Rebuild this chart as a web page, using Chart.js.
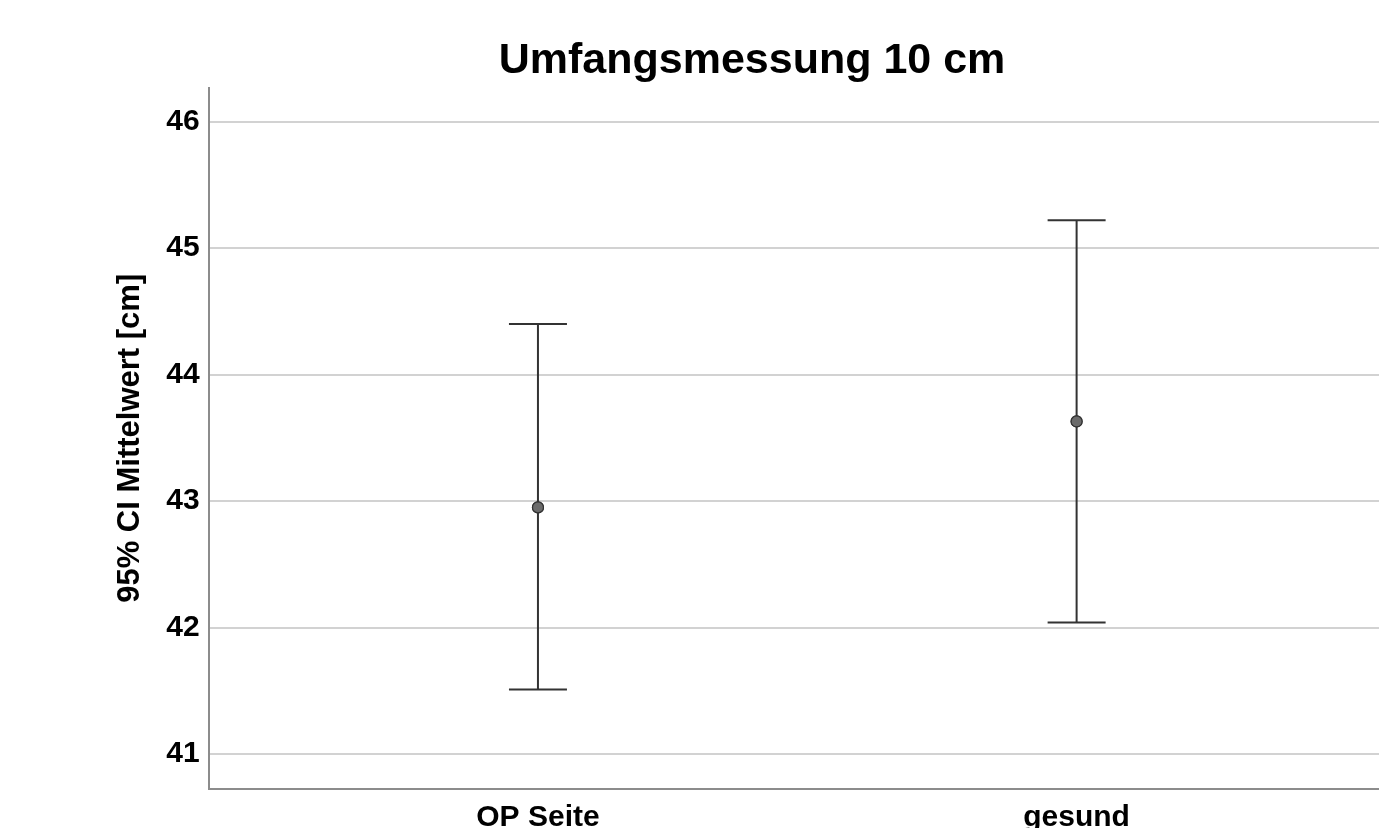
<!DOCTYPE html>
<html>
<head>
<meta charset="utf-8">
<script src="https://cdn.jsdelivr.net/npm/chart.js@4.4.1/dist/chart.umd.min.js"></script>
<style>
html,body{margin:0;padding:0;background:#fff;overflow:hidden;width:1379px;height:828px;}
canvas{display:block;}
</style>
</head>
<body>
<canvas id="c" width="1504" height="847"></canvas>
<script>
// Data
const categories = ["OP Seite", "gesund"];
const categoryPositions = [1, 2];
const means = [42.95, 43.63];
const lowerCI = [41.51, 42.04];
const upperCI = [44.40, 45.22];
const yTickValues = [41, 42, 43, 44, 45, 46];

const FONT = "'Liberation Sans', Arial, sans-serif";

const errorBarPlugin = {
  id: 'errorBars',
  afterDatasetsDraw(chart) {
    const ctx = chart.ctx;
    const xs = chart.scales.x, ys = chart.scales.y;
    ctx.save();
    ctx.strokeStyle = '#333333';
    ctx.lineWidth = 2;
    ctx.lineCap = 'butt';
    for (let i = 0; i < categories.length; i++) {
      const x = xs.getPixelForValue(categoryPositions[i]);
      const yl = ys.getPixelForValue(lowerCI[i]);
      const yu = ys.getPixelForValue(upperCI[i]);
      const half = 29;
      ctx.beginPath();
      ctx.moveTo(x, yl); ctx.lineTo(x, yu);
      ctx.moveTo(x - half, yu); ctx.lineTo(x + half, yu);
      ctx.moveTo(x - half, yl); ctx.lineTo(x + half, yl);
      ctx.stroke();
    }
    ctx.restore();
    const meta = chart.getDatasetMeta(0);
    meta.data.forEach(p => p.draw(ctx, chart.chartArea));
  }
};

new Chart(document.getElementById('c'), {
  type: 'scatter',
  data: {
    datasets: [{
      data: categoryPositions.map((x, i) => ({x: x, y: means[i]})),
      pointRadius: 5.5,
      pointHoverRadius: 5.5,
      pointBackgroundColor: '#6b6b6b',
      pointBorderColor: '#333333',
      pointBorderWidth: 1.2
    }]
  },
  options: {
    responsive: false,
    animation: false,
    devicePixelRatio: 1,
    layout: { padding: { left: 0, right: 0, top: 0, bottom: 0 } },
    plugins: {
      legend: { display: false },
      tooltip: { enabled: false },
      title: {
        display: true,
        text: 'Umfangsmessung 10 cm',
        color: '#000',
        font: { family: FONT, size: 43, weight: 'bold' },
        padding: { top: 35, bottom: 1 }
      }
    },
    scales: {
      x: {
        type: 'linear',
        min: 0.3885,
        max: 2.781,
        afterBuildTicks(scale) { scale.ticks = categoryPositions.map(v => ({value: v})); },
        ticks: {
          color: '#000',
          font: { family: FONT, size: 30, weight: 'bold' },
          padding: 11,
          maxRotation: 0,
          autoSkip: false,
          callback(v) { const i = categoryPositions.indexOf(v); return i >= 0 ? categories[i] : ''; }
        },
        grid: { display: false, drawTicks: false },
        border: { display: true, color: '#8c8c8c', width: 2 }
      },
      y: {
        type: 'linear',
        min: 40.723,
        max: 46.27,
        afterBuildTicks(scale) { scale.ticks = yTickValues.map(v => ({value: v})); },
        ticks: {
          color: '#000',
          font: { family: FONT, size: 30, weight: 'bold' },
          padding: 9,
          callback(v) { return String(v); }
        },
        grid: { color: '#d2d2d2', lineWidth: 2, drawTicks: false },
        border: { display: true, color: '#8c8c8c', width: 2 },
        title: {
          display: true,
          text: '95% CI Mittelwert [cm]',
          color: '#000',
          font: { family: FONT, size: 31, weight: 'bold' },
          padding: { top: 112, bottom: 8 }
        }
      }
    }
  },
  plugins: [errorBarPlugin]
});
</script>
</body>
</html>
